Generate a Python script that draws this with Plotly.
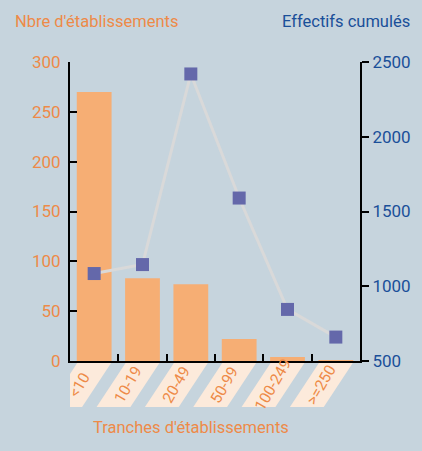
import plotly.graph_objects as go

categories = ["<10", "10-19", "20-49", "50-99", "100-249", ">=250"]
nb_etablissements = [270, 83, 77, 22, 4, 1]
effectifs_cumules = [1085, 1145, 2420, 1590, 845, 660]
left_ticks = [0, 50, 100, 150, 200, 250, 300]
right_ticks = [500, 1000, 1500, 2000, 2500]

BG = "#C6D4DD"
BAR = "#F6AE74"
ORANGE = "#EE8A48"
BLUE = "#1A4F99"
MARK = "#6468AA"
LINE = "#D9D9D9"
BOX = "#FCEADB"
FONT = "Roboto, sans-serif"

xs = list(range(len(categories)))

fig = go.Figure()
fig.add_trace(go.Bar(x=xs, y=nb_etablissements, marker=dict(color=BAR, line=dict(width=0)),
                     width=0.72, yaxis="y", hoverinfo="skip"))
fig.add_trace(go.Scatter(x=xs, y=effectifs_cumules, yaxis="y2", mode="lines+markers",
                         line=dict(color=LINE, width=3),
                         marker=dict(symbol="square", size=13, color=MARK, line=dict(width=0)),
                         hoverinfo="skip"))

shapes = []
annotations = []
ytop, ybot, shift = -0.007, -0.154, 0.6
for i, c in enumerate(categories):
    path = (f"M {i-0.35},{ytop} L {i+0.35},{ytop} L {i+0.35-shift},{ybot} "
            f"L {i-0.35-shift},{ybot} Z")
    shapes.append(dict(type="path", path=path, xref="x", yref="paper",
                       fillcolor=BOX, line=dict(width=0), layer="above"))
    annotations.append(dict(x=i - shift / 2, y=(ytop + ybot) / 2, xref="x", yref="paper",
                            text=c, showarrow=False, textangle=-60,
                            font=dict(family=FONT, size=15.5, color=ORANGE),
                            xanchor="center", yanchor="middle"))

annotations += [
    dict(x=-0.197, y=1.137, xref="paper", yref="paper", text="Nbre d'établissements",
         showarrow=False, xanchor="left", yanchor="middle",
         font=dict(family=FONT, size=16.5, color=ORANGE)),
    dict(x=1.179, y=1.137, xref="paper", yref="paper", text="Effectifs cumulés",
         showarrow=False, xanchor="right", yanchor="middle",
         font=dict(family=FONT, size=16.5, color=BLUE)),
    dict(x=0.417, y=-0.221, xref="paper", yref="paper", text="Tranches d'établissements",
         showarrow=False, xanchor="center", yanchor="middle",
         font=dict(family=FONT, size=16.5, color=ORANGE)),
]

fig.update_layout(
    width=422, height=451,
    margin=dict(l=70, r=62, t=62, b=90, pad=0),
    paper_bgcolor=BG, plot_bgcolor=BG,
    showlegend=False,
    font=dict(family=FONT),
    xaxis=dict(range=[-0.5, 5.5], tickvals=[x + 0.5 for x in xs], showticklabels=False,
               ticks="inside", ticklen=7, tickwidth=2, tickcolor="black",
               showline=True, linecolor="black", linewidth=2, showgrid=False, zeroline=False,
               fixedrange=True),
    yaxis=dict(range=[0, 300], tickvals=left_ticks, ticks="inside", ticklen=7, tickwidth=2,
               tickcolor="black", showline=True, linecolor="black", linewidth=2,
               showgrid=False, zeroline=False,
               tickfont=dict(family=FONT, size=17, color=ORANGE), ticklabelstandoff=4),
    yaxis2=dict(range=[500, 2500], tickvals=right_ticks, overlaying="y", side="right",
                ticks="outside", ticklen=7, tickwidth=2, tickcolor="black",
                showline=True, linecolor="black", linewidth=2, showgrid=False, zeroline=False,
                tickfont=dict(family=FONT, size=17, color=BLUE)),
    shapes=shapes,
    annotations=annotations,
)

fig.write_html("out.html", config={"displayModeBar": False},
               post_script="document.body.style.margin='0px';")
